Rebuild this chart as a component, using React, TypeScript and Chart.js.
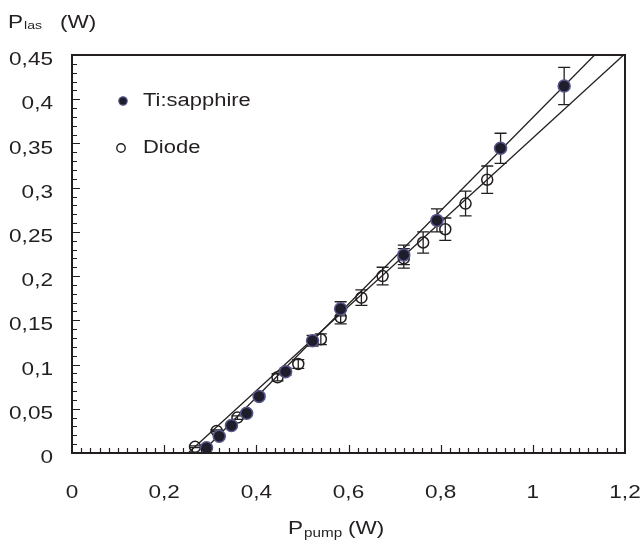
import React, { useEffect, useRef } from 'react';
import { Chart, registerables } from 'chart.js';
Chart.register(...registerables);

// Ti:sapphire pumped (filled markers)
const tiX = [0.292, 0.3195, 0.346, 0.379, 0.406, 0.4635, 0.522, 0.583, 0.72, 0.792, 0.93, 1.068];
const tiY = [0.006, 0.019, 0.031, 0.045, 0.064, 0.092, 0.127, 0.163, 0.224, 0.263, 0.3445, 0.415];
const tiErr = [0.001, 0.001, 0.002, 0.002, 0.003, 0.004, 0.006, 0.008, 0.011, 0.013, 0.017, 0.021];
// Diode pumped (open markers)
const diodeX = [0.267, 0.314, 0.359, 0.446, 0.491, 0.54, 0.583, 0.628, 0.674, 0.72, 0.762, 0.81, 0.854, 0.901];
const diodeY = [0.007, 0.025, 0.04, 0.0856, 0.1006, 0.1286, 0.1534, 0.1756, 0.2, 0.22, 0.238, 0.253, 0.282, 0.309];
const diodeErr = [0.001, 0.001, 0.002, 0.004, 0.005, 0.006, 0.0075, 0.0088, 0.01, 0.011, 0.012, 0.0127, 0.014, 0.0155];
// Linear fits (end points)
const tiFitX = [0.2806, 1.134];
const tiFitY = [0, 0.45];
const diodeFitX = [0.252, 1.197];
const diodeFitY = [0, 0.45];

const seriesLabels = ['Ti:sapphire', 'Diode'];
const xTickLabels = ['0', '0,2', '0,4', '0,6', '0,8', '1', '1,2'];
const yTickLabels = ['0', '0,05', '0,1', '0,15', '0,2', '0,25', '0,3', '0,35', '0,4', '0,45'];

const INK = '#231f20';
const FONT = '"Liberation Sans", Arial, sans-serif';
const SX = 1.22; // horizontal stretch of the original lettering

const toPts = (xs: number[], ys: number[]) => xs.map((x, i) => ({ x, y: ys[i] }));

function sText(ctx: CanvasRenderingContext2D, text: string, x: number, y: number, size: number, align: 'left' | 'center' | 'right') {
  ctx.save();
  ctx.font = `${size}px ${FONT}`;
  const w = ctx.measureText(text).width * SX;
  const left = align === 'left' ? x : align === 'center' ? x - w / 2 : x - w;
  ctx.translate(left, y);
  ctx.scale(SX, 1);
  ctx.textAlign = 'left';
  ctx.fillText(text, 0, 0);
  ctx.restore();
  return w;
}

export default function App() {
  const ref = useRef<HTMLCanvasElement | null>(null);
  useEffect(() => {
    if (!ref.current) return;
    const decor = {
      id: 'decor',
      beforeDatasetsDraw(chart: any) {
        const { ctx, scales } = chart;
        const xs = scales.x, ys = scales.y;
        ctx.save();
        ctx.strokeStyle = INK;
        ctx.lineWidth = 1.3;
        const bars = (xv: number[], yv: number[], ev: number[]) => {
          xv.forEach((x, i) => {
            const px = xs.getPixelForValue(x);
            const p1 = ys.getPixelForValue(yv[i] - ev[i]);
            const p2 = ys.getPixelForValue(yv[i] + ev[i]);
            ctx.beginPath();
            ctx.moveTo(px, p1); ctx.lineTo(px, p2);
            ctx.moveTo(px - 6, p1); ctx.lineTo(px + 6, p1);
            ctx.moveTo(px - 6, p2); ctx.lineTo(px + 6, p2);
            ctx.stroke();
          });
        };
        bars(diodeX, diodeY, diodeErr);
        bars(tiX, tiY, tiErr);
        ctx.restore();
      },
      afterDraw(chart: any) {
        const { ctx, chartArea: a, scales } = chart;
        const xs = scales.x, ys = scales.y;
        ctx.save();
        // minor / major ticks pointing inward
        ctx.strokeStyle = INK;
        ctx.lineWidth = 1.2;
        ctx.beginPath();
        for (let i = 1; i < 60; i++) {
          const px = Math.round(xs.getPixelForValue(i * 0.02)) + 0.5;
          const len = i % 10 === 0 ? 8 : 5;
          ctx.moveTo(px, a.bottom); ctx.lineTo(px, a.bottom - len);
        }
        for (let i = 1; i < 45; i++) {
          const py = Math.round(ys.getPixelForValue(i * 0.01)) + 0.5;
          const len = i % 5 === 0 ? 8 : 5;
          ctx.moveTo(a.left, py); ctx.lineTo(a.left + len, py);
        }
        ctx.stroke();
        // frame
        ctx.lineWidth = 2;
        ctx.strokeRect(a.left, a.top, a.right - a.left, a.bottom - a.top);

        ctx.fillStyle = INK;
        ctx.textBaseline = 'middle';
        // tick labels from the scales' ticks
        xs.ticks.forEach((t: any, i: number) => {
          sText(ctx, xTickLabels[i] ?? '', xs.getPixelForValue(t.value), a.bottom + 40, 18.5, 'center');
        });
        ys.ticks.forEach((t: any, i: number) => {
          sText(ctx, yTickLabels[i] ?? '', a.left - 19, ys.getPixelForValue(t.value) + 5, 18.5, 'right');
        });

        // legend
        const lx = a.left + 51;
        const ly = [a.top + 46, a.top + 93];
        chart.data.datasets.slice(0, 2).forEach((ds: any, i: number) => {
          ctx.beginPath();
          ctx.arc(lx - (i === 1 ? 2 : 0), ly[i], 4.2, 0, Math.PI * 2);
          if (i === 0) {
            ctx.fillStyle = ds.pointBackgroundColor;
            ctx.fill();
            ctx.strokeStyle = ds.pointBorderColor;
            ctx.lineWidth = 1.2;
            ctx.stroke();
          } else {
            ctx.strokeStyle = INK;
            ctx.lineWidth = 1.4;
            ctx.stroke();
          }
          ctx.fillStyle = INK;
          sText(ctx, ds.label, a.left + 71, ly[i], 18, 'left');
        });

        // axis titles
        ctx.textBaseline = 'alphabetic';
        let w = sText(ctx, 'P', 8, 28, 18.5, 'left');
        sText(ctx, 'las', 8 + w + 1, 29, 11.5, 'left');
        sText(ctx, '(W)', 60, 28, 18.5, 'left');
        const tx = 288, ty = 534;
        w = sText(ctx, 'P', tx, ty, 18.5, 'left');
        sText(ctx, 'pump', tx + w + 1, ty + 3, 12.5, 'left');
        sText(ctx, '(W)', 348, ty, 18.5, 'left');
        ctx.restore();
      },
    };

    const chart = new Chart(ref.current, {
      type: 'scatter',
      data: {
        datasets: [
          {
            label: seriesLabels[0],
            data: toPts(tiX, tiY),
            pointRadius: 6,
            pointBackgroundColor: '#1d1d2b',
            pointBorderColor: '#56568a',
            pointBorderWidth: 1.5,
            order: 0,
          },
          {
            label: seriesLabels[1],
            data: toPts(diodeX, diodeY),
            pointRadius: 5.5,
            pointBackgroundColor: 'rgba(255,255,255,0)',
            pointBorderColor: INK,
            pointBorderWidth: 1.5,
            order: 1,
          },
          {
            label: 'fitTi',
            type: 'line',
            data: toPts(tiFitX, tiFitY),
            borderColor: INK,
            borderWidth: 1.3,
            pointRadius: 0,
            fill: false,
            order: 3,
          },
          {
            label: 'fitDiode',
            type: 'line',
            data: toPts(diodeFitX, diodeFitY),
            borderColor: INK,
            borderWidth: 1.3,
            pointRadius: 0,
            fill: false,
            order: 3,
          },
        ] as any,
      },
      options: {
        animation: false,
        responsive: false,
        events: [],
        layout: { padding: { left: 0, right: 19, top: 55, bottom: 0 }, autoPadding: false } as any,
        plugins: { legend: { display: false }, tooltip: { enabled: false } },
        scales: {
          x: {
            type: 'linear',
            min: 0,
            max: 1.2,
            grid: { display: false, drawTicks: false },
            border: { display: false },
            ticks: { stepSize: 0.2, display: false },
            afterFit: (s: any) => { s.height = 93; s.paddingLeft = 0; s.paddingRight = 0; },
          },
          y: {
            type: 'linear',
            min: 0,
            max: 0.45,
            grid: { display: false, drawTicks: false },
            border: { display: false },
            ticks: { stepSize: 0.05, display: false },
            afterFit: (s: any) => { s.width = 72; s.paddingTop = 0; s.paddingBottom = 0; },
          },
        },
      } as any,
      plugins: [decor],
    });
    return () => chart.destroy();
  }, []);
  return (
    <div style={{ position: 'absolute', left: 0, top: 0, width: 644, height: 546, background: '#fff' }}>
      <canvas ref={ref} width={644} height={546} />
    </div>
  );
}
